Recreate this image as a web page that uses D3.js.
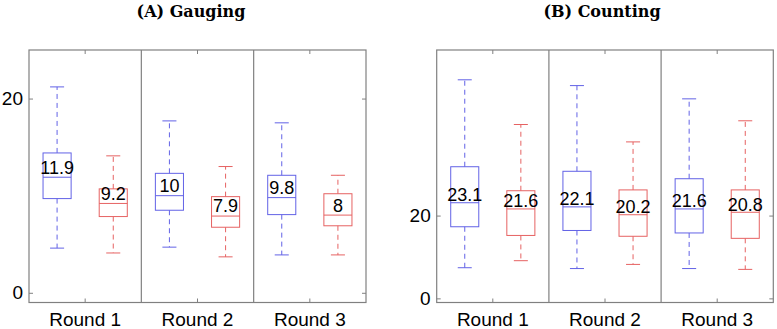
<!DOCTYPE html>
<html><head><meta charset="utf-8">
<script src="https://cdn.jsdelivr.net/npm/d3@7"></script>
<style>body{margin:0;background:#fff}svg{display:block}</style>
</head><body>
<script>
const rounds = ["Round 1", "Round 2", "Round 3"];
const groups = ["blue", "red"];
const yTicks = [0, 20];

// (A) Gauging
const gaugingBlueMin = [4.6, 4.7, 3.9];
const gaugingBlueQ1  = [9.7, 8.5, 8.05];
const gaugingBlueMed = [11.9, 10, 9.8];
const gaugingBlueQ3  = [14.4, 12.3, 12.1];
const gaugingBlueMax = [21.2, 17.7, 17.5];
const gaugingRedMin  = [4.1, 3.7, 3.9];
const gaugingRedQ1   = [7.85, 6.75, 6.9];
const gaugingRedMed  = [9.2, 7.9, 8];
const gaugingRedQ3   = [10.7, 9.9, 10.2];
const gaugingRedMax  = [14.1, 13.0, 12.1];

// (B) Counting
const countingBlueMin = [7.4, 7.2, 7.2];
const countingBlueQ1  = [17.3, 16.4, 15.8];
const countingBlueMed = [23.1, 22.1, 21.6];
const countingBlueQ3  = [31.8, 30.7, 28.9];
const countingBlueMax = [52.8, 51.4, 48.2];
const countingRedMin  = [9.1, 8.2, 7.0];
const countingRedQ1   = [15.2, 15.0, 14.5];
const countingRedMed  = [21.6, 20.2, 20.8];
const countingRedQ3   = [26.0, 26.2, 26.2];
const countingRedMax  = [42.0, 37.8, 42.9];

const W = 777, H = 329;
const svg = d3.select("body").append("svg").attr("width", W).attr("height", H);
const colors = {blue: "#6262e6", red: "#e66262"};
const frameColor = "#808080";

function build(mins, q1s, meds, q3s, maxs) {
  return rounds.map((r, i) => ({round: r, min: mins[i], q1: q1s[i], med: meds[i], q3: q3s[i], max: maxs[i]}));
}

function panel(cfg) {
  const x = d3.scaleBand().domain(rounds).range([cfg.x0, cfg.x1]).paddingInner(0).paddingOuter(0);
  const xs = d3.scaleBand().domain(groups).range([0, x.bandwidth()]);
  const y = d3.scaleLinear().domain(cfg.domain).range([cfg.y1, cfg.y0]);
  const g = svg.append("g");

  // title
  g.append("text").attr("x", cfg.titleX).attr("y", 17).attr("text-anchor", "middle")
    .attr("font-family", "DejaVu Serif").attr("font-weight", "bold").attr("font-size", 16)
    .text(cfg.title);

  // frame
  g.append("rect").attr("x", cfg.x0).attr("y", cfg.y0).attr("width", cfg.x1 - cfg.x0).attr("height", cfg.y1 - cfg.y0)
    .attr("fill", "none").attr("stroke", frameColor).attr("stroke-width", 1.2);
  // dividers
  rounds.slice(1).forEach(r => {
    g.append("line").attr("x1", x(r)).attr("x2", x(r)).attr("y1", cfg.y0).attr("y2", cfg.y1)
      .attr("stroke", frameColor).attr("stroke-width", 1.2);
  });

  // x axis (bottom) with inward ticks
  const xAxisB = g.append("g").attr("transform", `translate(0,${cfg.y1})`)
    .call(d3.axisBottom(x).tickSizeInner(-4).tickSizeOuter(0).tickPadding(10));
  xAxisB.select(".domain").remove();
  xAxisB.selectAll("line").attr("stroke", frameColor);
  xAxisB.selectAll("text").attr("font-family", "Liberation Sans, Arial, sans-serif").attr("font-size", 19).attr("fill", "#000");
  const xAxisT = g.append("g").attr("transform", `translate(0,${cfg.y0})`)
    .call(d3.axisTop(x).tickSizeInner(-4).tickSizeOuter(0).tickFormat(""));
  xAxisT.select(".domain").remove();
  xAxisT.selectAll("line").attr("stroke", frameColor);

  // y axes
  const yAxisL = g.append("g").attr("transform", `translate(${cfg.x0},0)`)
    .call(d3.axisLeft(y).tickValues(yTicks).tickSizeInner(-4).tickSizeOuter(0).tickPadding(6));
  yAxisL.select(".domain").remove();
  yAxisL.selectAll("line").attr("stroke", frameColor);
  yAxisL.selectAll("text").attr("font-family", "Liberation Sans, Arial, sans-serif").attr("font-size", 19).attr("fill", "#000");
  const yAxisR = g.append("g").attr("transform", `translate(${cfg.x1},0)`)
    .call(d3.axisRight(y).tickValues(yTicks).tickSizeInner(-4).tickSizeOuter(0).tickFormat(""));
  yAxisR.select(".domain").remove();
  yAxisR.selectAll("line").attr("stroke", frameColor);

  // boxes
  cfg.series.forEach(s => {
    const bw = xs.bandwidth() / 2;
    const cx = d => x(d.round) + xs(s.group) + xs.bandwidth() / 2;
    const col = colors[s.group];
    const bg = g.append("g").selectAll("g").data(s.data).join("g");
    // whiskers
    bg.append("line").attr("x1", cx).attr("x2", cx).attr("y1", d => y(d.q3)).attr("y2", d => y(d.max))
      .attr("stroke", col).attr("stroke-dasharray", "5,4");
    bg.append("line").attr("x1", cx).attr("x2", cx).attr("y1", d => y(d.q1)).attr("y2", d => y(d.min))
      .attr("stroke", col).attr("stroke-dasharray", "5,4");
    // caps
    bg.append("line").attr("x1", d => cx(d) - bw / 4).attr("x2", d => cx(d) + bw / 4)
      .attr("y1", d => y(d.max)).attr("y2", d => y(d.max)).attr("stroke", col);
    bg.append("line").attr("x1", d => cx(d) - bw / 4).attr("x2", d => cx(d) + bw / 4)
      .attr("y1", d => y(d.min)).attr("y2", d => y(d.min)).attr("stroke", col);
    // box
    bg.append("rect").attr("x", d => cx(d) - bw / 2).attr("width", bw)
      .attr("y", d => y(d.q3)).attr("height", d => y(d.q1) - y(d.q3))
      .attr("fill", "none").attr("stroke", col);
    // median
    bg.append("line").attr("x1", d => cx(d) - bw / 2).attr("x2", d => cx(d) + bw / 2)
      .attr("y1", d => y(d.med)).attr("y2", d => y(d.med)).attr("stroke", col);
    // label
    bg.append("text").attr("x", cx).attr("y", d => y(d.med + cfg.labelLift)).attr("text-anchor", "middle")
      .attr("font-family", "Liberation Sans, Arial, sans-serif").attr("font-size", 18).attr("fill", "#000")
      .text(d => d3.format("~g")(d.med));
  });
}

panel({
  title: "(A) Gauging", titleX: 191, x0: 29, x1: 366, y0: 50, y1: 302.5, domain: [-1, 25], labelLift: 0.37,
  series: [
    {group: "blue", data: build(gaugingBlueMin, gaugingBlueQ1, gaugingBlueMed, gaugingBlueQ3, gaugingBlueMax)},
    {group: "red", data: build(gaugingRedMin, gaugingRedQ1, gaugingRedMed, gaugingRedQ3, gaugingRedMax)}
  ]
});
panel({
  title: "(B) Counting", titleX: 602, x0: 436.7, x1: 773.3, y0: 50, y1: 302.5, domain: [-1, 60], labelLift: 0.37,
  series: [
    {group: "blue", data: build(countingBlueMin, countingBlueQ1, countingBlueMed, countingBlueQ3, countingBlueMax)},
    {group: "red", data: build(countingRedMin, countingRedQ1, countingRedMed, countingRedQ3, countingRedMax)}
  ]
});
</script>
</body></html>
